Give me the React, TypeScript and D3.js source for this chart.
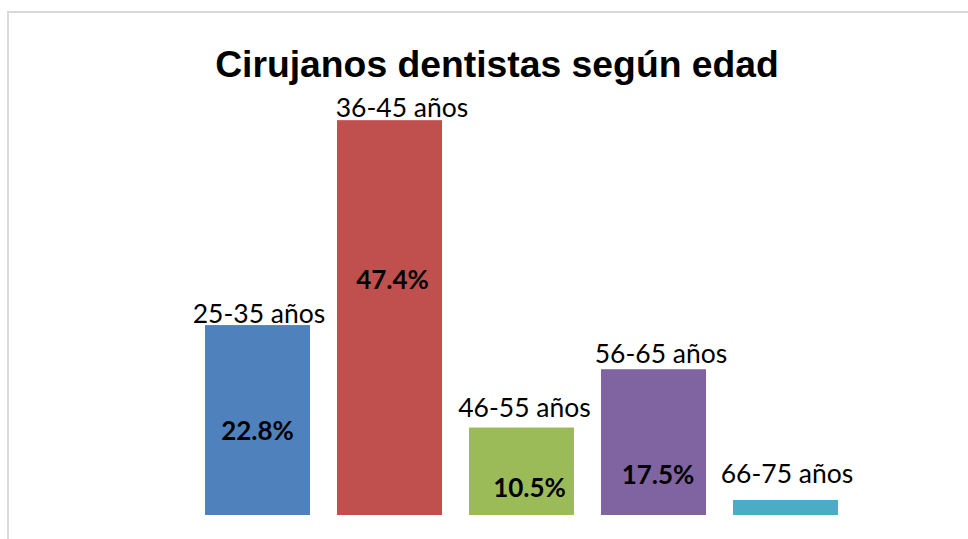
import React, { useEffect, useRef } from 'react';
import * as d3 from 'd3';

const categories = ['25-35 años', '36-45 años', '46-55 años', '56-65 años', '66-75 años'];
const percentages = [22.8, 47.4, 10.5, 17.5, 1.8];
const valueLabels = ['22.8%', '47.4%', '10.5%', '17.5%', ''];
const colors = ['#4F81BD', '#C0504D', '#9BBB59', '#8064A2', '#4BACC6'];
const title = 'Cirujanos dentistas según edad';

// hand placed label nudges (px), as in the original sheet
const catLabelDx = [1.5, 12.5, 3, 7.5, 1.5];
const catLabelGap = [2.5, 3, 11, 6, 17];
const valLabelDx = [0, 3, 8, 4.5, 0];
const valLabelDy = [11, -38, 16, 33, 0];

const width = 968;
const height = 539;

const App: React.FC = () => {
  const ref = useRef<SVGSVGElement>(null);

  useEffect(() => {
    if (!ref.current) return;
    const svg = d3.select(ref.current);
    svg.selectAll('*').remove();

    // chart frame, cut off at the right and bottom
    svg
      .append('rect')
      .attr('x', 8)
      .attr('y', 12)
      .attr('width', 1000)
      .attr('height', 600)
      .attr('fill', '#fff')
      .attr('stroke', '#d9d9d9')
      .attr('stroke-width', 2);

    svg
      .append('text')
      .attr('x', 497)
      .attr('y', 76.5)
      .attr('text-anchor', 'middle')
      .attr('font-family', '"Liberation Sans", Arial, sans-serif')
      .attr('font-weight', 'bold')
      .attr('font-size', 37.3)
      .attr('fill', '#000')
      .text(title);

    const x = d3
      .scaleBand<string>()
      .domain(categories)
      .range([191.5, 851.5])
      .paddingInner(0.2045)
      .paddingOuter(0.1023);

    const y = d3.scaleLinear().domain([0, 50]).range([515, 98.5]);

    const g = svg.append('g');

    g.selectAll('rect.bar')
      .data(percentages)
      .enter()
      .append('rect')
      .attr('class', 'bar')
      .attr('x', (_, i) => x(categories[i]) as number)
      .attr('y', (d) => y(d))
      .attr('width', x.bandwidth())
      .attr('height', (d) => y(0) - y(d))
      .attr('fill', (_, i) => colors[i]);

    g.selectAll('text.cat')
      .data(percentages)
      .enter()
      .append('text')
      .attr('class', 'cat')
      .attr('x', (_, i) => (x(categories[i]) as number) + x.bandwidth() / 2 + catLabelDx[i])
      .attr('y', (d, i) => y(d) - catLabelGap[i])
      .attr('text-anchor', 'middle')
      .attr('font-family', 'Lato, "Noto Sans", sans-serif')
      .attr('font-size', 26.5)
      .attr('fill', '#000')
      .text((_, i) => categories[i]);

    g.selectAll('text.val')
      .data(percentages)
      .enter()
      .append('text')
      .attr('class', 'val')
      .attr('x', (_, i) => (x(categories[i]) as number) + x.bandwidth() / 2 + valLabelDx[i])
      .attr('y', (d, i) => (y(d) + y(0)) / 2 + valLabelDy[i])
      .attr('dy', '0.36em')
      .attr('text-anchor', 'middle')
      .attr('font-family', 'Lato, "Noto Sans", sans-serif')
      .attr('font-weight', 'bold')
      .attr('font-size', 26)
      .attr('fill', '#000')
      .text((_, i) => valueLabels[i]);
  }, []);

  return (
    <svg
      ref={ref}
      width={width}
      height={height}
      style={{ position: 'absolute', left: 0, top: 0, display: 'block', background: '#fff' }}
    ></svg>
  );
};

export default App;
